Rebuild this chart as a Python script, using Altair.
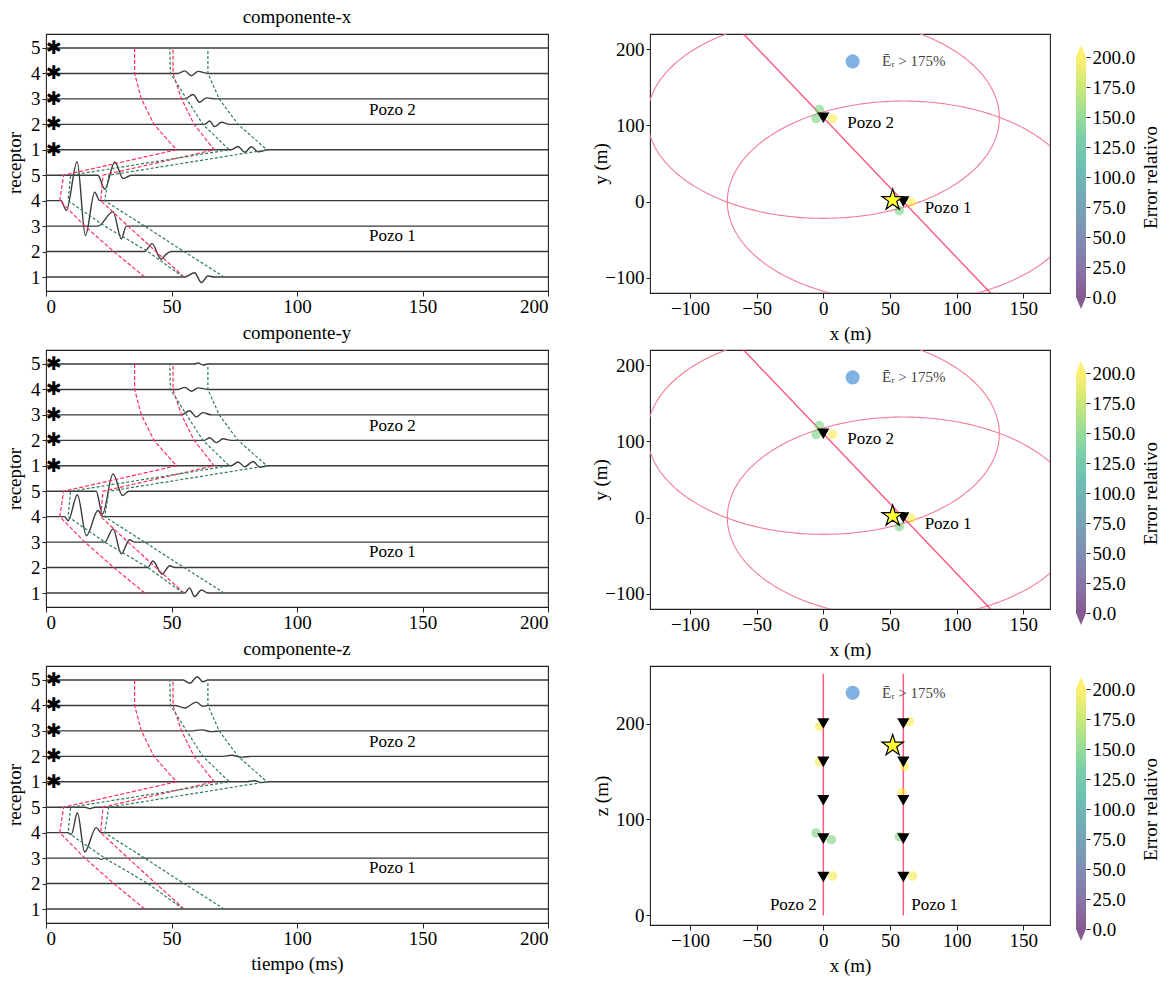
import altair as alt
import numpy as np
import pandas as pd

FONT = "Liberation Serif"

# ---------------- data: seismogram panels ----------------
POS = [1, 2, 3, 4, 5, 6, 7, 8, 9, 10]          # 1-5 Pozo 1, 6-10 Pozo 2
RED_P = [39.3, 27.0, 15.5, 5.5, 7.0, 52.0, 43.0, 38.0, 35.3, 35.3]
RED_S = [55.0, 43.8, 32.7, 21.8, 22.7, 67.0, 59.0, 54.0, 50.6, 50.6]
GREEN_P = [54.6, 40.6, 23.4, 8.8, 9.8, 73.0, 62.5, 56.0, 49.6, 49.3]
GREEN_S = [71.0, 55.0, 39.3, 23.4, 25.0, 88.0, 76.5, 69.0, 64.5, 64.5]
STAR_T = 3.2

WIG_X = {
    1: ([55.2, 59.2, 61.9, 64.5, 67.2], [0, 0.17, -0.22, 0.04, 0]),
    2: ([39.3, 42.2, 45.9, 47.9, 49.9], [0, 0.31, -0.30, -0.10, 0]),
    3: ([20.7, 26.7, 30.0, 32.0], [0, 0.57, -0.50, 0]),
    4: ([6.0, 8.1, 12.4, 15.7, 19.4, 21.4], [0, -0.39, 1.53, -1.37, 0.33, 0]),
    5: ([20.7, 23.4, 27.4, 30.7, 34.0], [0, -0.55, 0.52, -0.13, 0]),
    6: ([73.8, 76.5, 79.2, 81.8, 84.5, 88.5], [0, 0.13, -0.10, 0.12, -0.08, 0]),
    7: ([63.2, 65.2, 67.2, 69.9, 73.2], [0, 0.13, -0.09, 0.08, 0]),
    8: ([55.3, 58.6, 61.2, 63.9, 67.2], [0, 0.17, -0.13, 0.04, 0]),
    9: ([52.6, 55.3, 57.9, 60.6, 64.5], [0, 0.10, -0.09, 0.08, 0]),
}
WIG_Y = {
    1: ([55.3, 57.2, 59.2, 61.9, 64.5], [0, 0.20, -0.14, 0.12, 0]),
    2: ([40.6, 42.6, 46.2, 49.3, 51.3], [0, 0.26, -0.26, 0.07, 0]),
    3: ([23.4, 26.7, 30.0, 33.3, 35.3], [0, 0.52, -0.46, 0.09, 0]),
    4: ([7.4, 8.8, 12.5, 16.1, 20.7, 22.7], [0, -0.16, 0.86, -0.75, 0.24, 0]),
    5: ([20.0, 22.5, 26.7, 30.5, 33.0], [0, -0.90, 0.68, -0.17, 0]),
    6: ([73.8, 76.5, 79.2, 82.5, 85.2, 88.5], [0, 0.15, -0.04, 0.17, -0.06, 0]),
    7: ([63.2, 65.2, 67.9, 70.5, 73.8], [0, 0.10, -0.09, 0.06, 0]),
    8: ([53.9, 57.2, 59.9, 62.5, 65.9], [0, 0.16, -0.08, 0.09, 0]),
    9: ([52.6, 55.3, 57.9, 60.6, 64.5], [0, 0.08, -0.07, 0.06, 0]),
    10: ([59.2, 60.6, 62.5, 64.5], [0, 0.04, -0.04, 0]),
}
WIG_Z = {
    3: ([20.7, 22.0, 23.4], [0, -0.05, 0]),
    4: ([8.8, 10.1, 12.5, 15.4, 20.0, 22.0], [0, -0.07, 0.78, -0.76, 0.20, 0]),
    5: ([15.5, 17.5, 19.5], [0, -0.06, 0]),
    6: ([80.0, 83.0, 86.0, 89.0], [0, 0.04, -0.03, 0]),
    7: ([70.0, 74.0, 78.0, 82.0], [0, 0.04, -0.03, 0]),
    8: ([58.0, 62.0, 66.0, 70.0], [0, 0.04, -0.03, 0]),
    9: ([51.3, 55.3, 59.9, 62.5, 64.5], [0, -0.10, 0.13, -0.03, 0]),
    10: ([54.6, 57.3, 60.3, 62.5, 64.5], [0, -0.13, 0.13, -0.07, 0]),
}

# ---------------- data: location panels ----------------
WELL_X = [0, 60]
WELL_Y = [110, 0]
SRC_XY = (52, 2)
LINE_X = [-62, 127]
LINE_Y = [224, -123]
CIRC_CX = [0, 60]
CIRC_CY = [110, 0]
CIRC_R = [132, 132]
DOT_X = [-3, -5.5, 7, 57, 66]
DOT_Y = [121, 109, 109, -12, -1]
DOT_E = [150, 150, 200, 150, 200]
BLUE_XY = (22, 184)
ETXT_X = 44

REC_Z = [40, 80, 120, 160, 200]
SRC_XZ = (52, 177)
WELL_TOP_Z = 252
DOTZ_X = [7, -3, -5.5, 6, -3, 64.5, 61, 59, 57, 67]
DOTZ_Z = [41, 197, 86, 79, 160, 202, 155, 128, 82, 41]
DOTZ_E = [200, 200, 150, 150, 200, 200, 200, 200, 150, 200]
BLUE_XZ = (22, 232)

CB_TICKS = [0, 25, 50, 75, 100, 125, 150, 175, 200]
VIRIDIS = ["#440154", "#482878", "#3e4989", "#31688e", "#26828e",
           "#1f9e89", "#35b779", "#6ece58", "#b5de2b", "#fde725"]

RED = "#ff2d5f"
GREEN = "#2f7d55"
DARK = "#3a3a3a"
PINK = "#f27d95"

# ---------------- left panels ----------------
XS_L = alt.Scale(domain=[0, 200], nice=False, zero=False)
YS_L = alt.Scale(domain=[0.45, 10.55], nice=False, zero=False)


def left_panel(W, title, xtitle):
    xax = alt.Axis(values=[0, 50, 100, 150, 200], title=xtitle, grid=False,
                   labelPadding=1, tickSize=5, titlePadding=6)
    yax = alt.Axis(values=POS, title="receptor", grid=False, titlePadding=6,
                   labelExpr="datum.value > 5 ? datum.value - 5 : datum.value")
    X = alt.X("t:Q", scale=XS_L, axis=xax)
    Y = alt.Y("y:Q", scale=YS_L, axis=yax)

    rows = []
    for p in POS:
        ts, amps = W.get(p, ([], []))
        rows.append({"pos": p, "t": 0.0, "y": float(p)})
        for t, a in zip(ts, amps):
            rows.append({"pos": p, "t": t, "y": p + a})
        rows.append({"pos": p, "t": 200.0, "y": float(p)})
    tdf = pd.DataFrame(rows)

    prow = []
    for name, arr in (("rp", RED_P), ("rs", RED_S), ("gp", GREEN_P), ("gs", GREEN_S)):
        for p, t in zip(POS, arr):
            prow.append({"curve": name, "y": p, "t": t})
    pdf = pd.DataFrame(prow)

    traces = alt.Chart(tdf).mark_line(color=DARK, strokeWidth=1.4, interpolate="monotone").encode(
        x=X, y=Y, detail="pos:N")
    reds = alt.Chart(pdf[pdf.curve.isin(["rp", "rs"])]).mark_line(
        color=RED, strokeWidth=1.2, strokeDash=[4, 2]).encode(
        x=X, y=Y, detail="curve:N", order="y:Q")
    greens = alt.Chart(pdf[pdf.curve.isin(["gp", "gs"])]).mark_line(
        color=GREEN, strokeWidth=1.2, strokeDash=[3, 2]).encode(
        x=X, y=Y, detail="curve:N", order="y:Q")

    sdf = pd.DataFrame({"t": [STAR_T] * 5, "y": POS[5:]})
    stars = alt.Chart(sdf).mark_text(text="✱", font="DejaVu Sans", fontSize=19,
                                     color="black", baseline="middle", align="center").encode(x=X, y=Y)
    tx = pd.DataFrame({"t": [138, 138], "y": [7.55, 2.6], "lab": ["Pozo 2", "Pozo 1"]})
    texts = alt.Chart(tx).mark_text(font=FONT, fontSize=17, color="black",
                                    baseline="middle", align="center").encode(x=X, y=Y, text="lab:N")

    return alt.layer(traces, reds, greens, stars, texts).properties(
        width=502, height=257,
        title=alt.TitleParams(title, font=FONT, fontSize=19, fontWeight="normal",
                              anchor="middle", offset=7, color="black"))


# ---------------- right panels ----------------
XS_R = alt.Scale(domain=[-130, 170], nice=False, zero=False)


def colorbar_layer():
    cb_scale = alt.Scale(domain=[0, 200], range=[263, 23], zero=False, nice=False)
    grad = alt.Gradient(gradient="linear", x1=0, x2=0, y1=1, y2=0,
                        stops=[alt.GradientStop(color=c, offset=i / (len(VIRIDIS) - 1))
                               for i, c in enumerate(VIRIDIS)])
    cbdf = pd.DataFrame({"lo": [0], "hi": [200]})
    cax = alt.Axis(orient="right", offset=36, values=CB_TICKS, format=".1f",
                   title="Error relativo", titleAngle=270, titleBaseline="top",
                   domain=False, grid=False, tickSize=4, titlePadding=7)
    bar = alt.Chart(cbdf).mark_rect(fill=grad, opacity=0.65).encode(
        x=alt.value(426), x2=alt.value(436),
        y=alt.Y("lo:Q", scale=cb_scale, axis=cax), y2="hi:Q")
    tri_up = alt.Chart(pd.DataFrame({"lo": [200]})).mark_point(
        shape="M -1 0 L 1 0 L 0 -2.4 Z", filled=True, size=100, opacity=0.65,
        fill=VIRIDIS[-1], strokeWidth=0).encode(
        x=alt.value(431), y=alt.Y("lo:Q", scale=cb_scale, axis=cax))
    tri_dn = alt.Chart(pd.DataFrame({"lo": [0]})).mark_point(
        shape="M -1 0 L 1 0 L 0 2.4 Z", filled=True, size=100, opacity=0.65,
        fill=VIRIDIS[0], strokeWidth=0).encode(
        x=alt.value(431), y=alt.Y("lo:Q", scale=cb_scale, axis=cax))
    return alt.layer(bar, tri_up, tri_dn)


def right_panel(mode):
    xax = alt.Axis(values=[-100, -50, 0, 50, 100, 150], title="x (m)", grid=False,
                   labelPadding=1, tickSize=5, titlePadding=6)
    if mode == "xy":
        ydom = [-120, 220]
        yvals = [-100, 0, 100, 200]
        ytitle = "y (m)"
        ytp = -6
    else:
        ydom = [-10, 260]
        yvals = [0, 100, 200]
        ytitle = "z (m)"
        ytp = 4
    YS = alt.Scale(domain=ydom, nice=False, zero=False)
    X = alt.X("x:Q", scale=XS_R, axis=xax)
    Y = alt.Y("y:Q", scale=YS, axis=alt.Axis(values=yvals, title=ytitle, grid=False, titlePadding=ytp))
    layers = []

    if mode == "xy":
        theta = np.linspace(0, 2 * np.pi, 361)
        crow = []
        for k, (cx, cy, r) in enumerate(zip(CIRC_CX, CIRC_CY, CIRC_R)):
            for i, th in enumerate(theta):
                crow.append({"c": k, "i": i, "x": cx + r * np.cos(th), "y": cy + r * np.sin(th)})
        layers.append(alt.Chart(pd.DataFrame(crow)).mark_line(
            color=PINK, strokeWidth=1.1, clip=True).encode(x=X, y=Y, detail="c:N", order="i:Q"))
        layers.append(alt.Chart(pd.DataFrame({"x": LINE_X, "y": LINE_Y})).mark_line(
            color=RED, strokeWidth=1.4, opacity=0.8, clip=True).encode(x=X, y=Y))
        ddf = pd.DataFrame({"x": DOT_X, "y": DOT_Y, "e": DOT_E})
        wdf = pd.DataFrame({"x": WELL_X, "y": WELL_Y})
        src = pd.DataFrame({"x": [SRC_XY[0]], "y": [SRC_XY[1]]})
        blue = pd.DataFrame({"x": [BLUE_XY[0]], "y": [BLUE_XY[1]]})
        lab = pd.DataFrame({"x": [18, 76], "y": [103, -9], "lab": ["Pozo 2", "Pozo 1"]})
        lab_align = "left"
    else:
        vrow = []
        for k, wx in enumerate(WELL_X):
            vrow.append({"c": k, "x": wx, "y": 0})
            vrow.append({"c": k, "x": wx, "y": WELL_TOP_Z})
        layers.append(alt.Chart(pd.DataFrame(vrow)).mark_line(
            color=RED, strokeWidth=1.5, opacity=0.8, clip=True).encode(x=X, y=Y, detail="c:N"))
        ddf = pd.DataFrame({"x": DOTZ_X, "y": DOTZ_Z, "e": DOTZ_E})
        wdf = pd.DataFrame({"x": [wx for wx in WELL_X for _ in REC_Z],
                            "y": [z for _ in WELL_X for z in REC_Z]})
        src = pd.DataFrame({"x": [SRC_XZ[0]], "y": [SRC_XZ[1]]})
        blue = pd.DataFrame({"x": [BLUE_XZ[0]], "y": [BLUE_XZ[1]]})
        lab = pd.DataFrame({"x": [-5, 66], "y": [11, 11], "lab": ["Pozo 2", "Pozo 1"]})
        lab_align = None

    layers.append(alt.Chart(ddf).mark_circle(size=90, opacity=0.5).encode(
        x=X, y=Y, color=alt.Color("e:Q", scale=alt.Scale(scheme="viridis", domain=[0, 200]), legend=None)))
    layers.append(alt.Chart(wdf).mark_point(shape="triangle-down", filled=True, size=150,
                                            color="black", opacity=1).encode(x=X, y=Y))
    star_path = ("M0,-1 L0.2245,-0.309 L0.951,-0.309 L0.363,0.118 L0.588,0.809 "
                 "L0,0.382 L-0.588,0.809 L-0.363,0.118 L-0.951,-0.309 L-0.2245,-0.309 Z")
    layers.append(alt.Chart(src).mark_point(shape=star_path, filled=True, size=500,
                                            fill="#ffff33", stroke="black", strokeWidth=1.2,
                                            opacity=1).encode(x=X, y=Y))
    layers.append(alt.Chart(blue).mark_circle(size=200, color="#4a90d9", opacity=0.7).encode(x=X, y=Y))
    etxt = pd.DataFrame({"x": [ETXT_X], "y": blue.y, "lab": ["Ēᵣ > 175%"]})
    layers.append(alt.Chart(etxt).mark_text(font=FONT, fontSize=15, color="#444",
                                            align="left", baseline="middle").encode(x=X, y=Y, text="lab:N"))
    if lab_align == "left":
        layers.append(alt.Chart(lab).mark_text(font=FONT, fontSize=17, color="black",
                                               align="left", baseline="middle").encode(x=X, y=Y, text="lab:N"))
    else:
        layers.append(alt.Chart(lab.iloc[[0]]).mark_text(font=FONT, fontSize=17, color="black",
                                                         align="right", baseline="middle").encode(x=X, y=Y, text="lab:N"))
        layers.append(alt.Chart(lab.iloc[[1]]).mark_text(font=FONT, fontSize=17, color="black",
                                                         align="left", baseline="middle").encode(x=X, y=Y, text="lab:N"))

    main = alt.layer(*layers)
    return alt.layer(main, colorbar_layer()).resolve_scale(y="independent").properties(width=400, height=259)


charts = [
    left_panel(WIG_X, "componente-x", None), right_panel("xy"),
    left_panel(WIG_Y, "componente-y", None), right_panel("xy"),
    left_panel(WIG_Z, "componente-z", "tiempo (ms)"), right_panel("xz"),
]

chart = alt.concat(*charts, columns=2, spacing={"row": 57, "column": 102}, bounds="flush").properties(
    padding={"left": 4, "top": 7, "right": 5, "bottom": 5}, background="white"
).configure_view(stroke="#222222", strokeWidth=1.1).configure_axis(
    labelFont=FONT, titleFont=FONT, labelFontSize=19, titleFontSize=19,
    titleFontWeight="normal", labelColor="black", titleColor="black",
    tickColor="#222222", domainColor="#222222", tickSize=4, labelPadding=2, titlePadding=4,
    domain=False
)

chart.save("out.html", embed_options={"renderer": "svg", "actions": False})
